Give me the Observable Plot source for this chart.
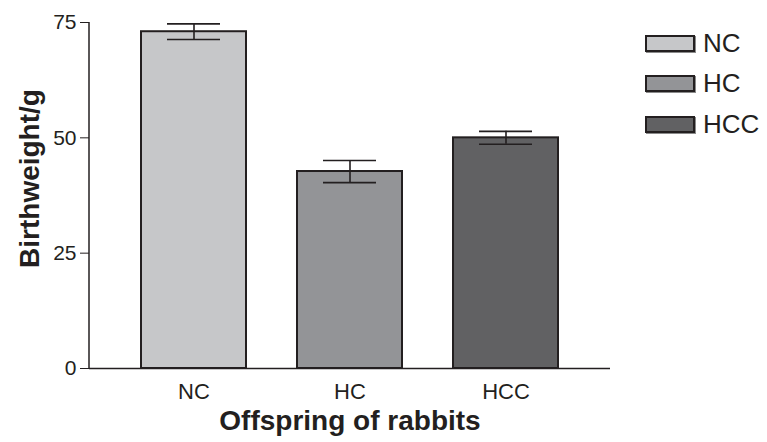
<!DOCTYPE html>
<html>
<head>
<meta charset="utf-8">
<script src="https://cdn.jsdelivr.net/npm/d3@7"></script>
<script src="https://cdn.jsdelivr.net/npm/@observablehq/plot@0.6"></script>
<style>
  html, body { margin: 0; padding: 0; background: #fff; }
  #wrap { position: relative; width: 767px; height: 442px; font-family: "Liberation Sans", Arial, sans-serif; }
  #legend { position: absolute; left: 645px; top: 23px; }
  .item { display: flex; align-items: center; height: 40.5px; font-size: 26px; color: #231f20; }
  .sw { width: 46px; height: 13px; border: 2px solid #231f20; margin-right: 8px; box-shadow: 1px 1px 0 #8a8a8a; }
</style>
</head>
<body>
<div id="wrap"><div id="legend"></div></div>
<script>
const groups = ["NC", "HC", "HCC"];
const means = [73, 42.7, 50];
const errs = [1.7, 2.4, 1.4];
const colors = ["#c6c7c9", "#939497", "#616163"];
const yTicks = [0, 25, 50, 75];

const data = groups.map((g, i) => ({group: g, mean: means[i], lo: means[i] - errs[i], hi: means[i] + errs[i]}));
const ink = "#231f20";

const chart = Plot.plot({
  width: 767,
  height: 442,
  marginLeft: 89,
  marginRight: 157,
  marginTop: 22,
  marginBottom: 74,
  style: {fontFamily: "Liberation Sans, Arial, sans-serif", color: ink, background: "white"},
  x: {domain: groups, padding: 0.33, label: null},
  y: {domain: [0, 75], label: null},
  color: {domain: groups, range: colors},
  marks: [
    Plot.barY(data, {x: "group", y: "mean", fill: "group", stroke: ink, strokeWidth: 2}),
    Plot.ruleX(data, {x: "group", y1: "lo", y2: "hi", stroke: ink, strokeWidth: 1.6}),
    Plot.tickY(data, {x: "group", y: "hi", stroke: ink, strokeWidth: 1.6, insetLeft: 26, insetRight: 26}),
    Plot.tickY(data, {x: "group", y: "lo", stroke: ink, strokeWidth: 1.6, insetLeft: 26, insetRight: 26}),
    Plot.ruleY([0], {stroke: ink, strokeWidth: 1.5}),
    Plot.axisY({ticks: yTicks, tickSize: 9, tickPadding: 4, fontSize: 21, stroke: ink, tickFormat: d => String(d), label: null}),
    Plot.axisX({tickSize: 0, tickPadding: 15, fontSize: 22, label: null}),
    Plot.text(["Offspring of rabbits"], {frameAnchor: "bottom", lineAnchor: "middle", textAnchor: "middle", dy: 53, fontSize: 28, fontWeight: "bold", fill: ink}),
    Plot.text(["Birthweight/g"], {frameAnchor: "left", lineAnchor: "middle", textAnchor: "middle", dx: -59, dy: -17, rotate: -90, fontSize: 28, fontWeight: "bold", fill: ink})
  ]
});

// vertical y-axis line, placed through the scales
const ys = chart.scale("y");
const xs = chart.scale("x");
const xLeft = xs.range[0];
d3.select(chart).append("line")
  .attr("x1", xLeft).attr("x2", xLeft)
  .attr("y1", ys.apply(ys.domain[0])).attr("y2", ys.apply(ys.domain[1]))
  .attr("stroke", ink).attr("stroke-width", 1.5);

document.getElementById("wrap").prepend(chart);

const legend = document.getElementById("legend");
groups.forEach((g, i) => {
  const item = document.createElement("div");
  item.className = "item";
  const sw = document.createElement("div");
  sw.className = "sw";
  sw.style.background = colors[i];
  const t = document.createElement("span");
  t.textContent = g;
  item.append(sw, t);
  legend.append(item);
});
</script>
</body>
</html>
